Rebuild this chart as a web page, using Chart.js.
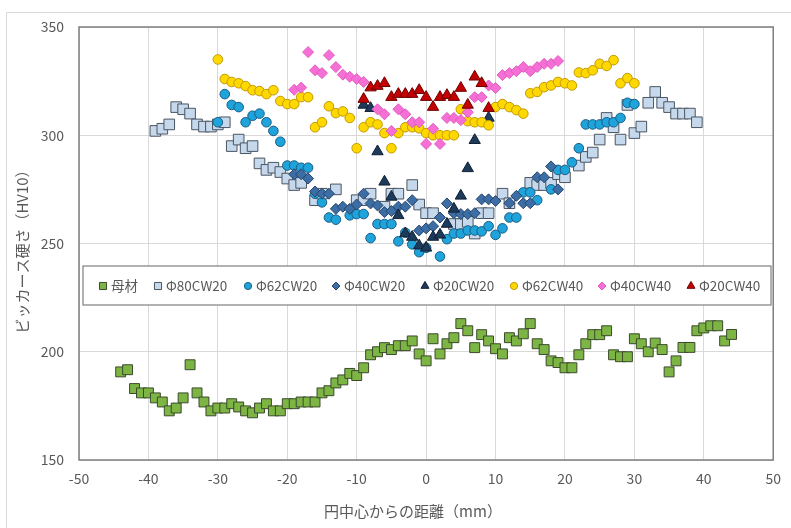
<!DOCTYPE html>
<html><head><meta charset="utf-8">
<script src="https://cdn.jsdelivr.net/npm/chart.js@4.4.1/dist/chart.umd.min.js"></script>
<style>html,body{margin:0;padding:0;background:#fff;}#wrap{width:791px;height:528px;position:relative;}</style>
</head><body><div id="wrap"><canvas id="c" width="791" height="528"></canvas></div>
<script>
// ---- data ----
const seriesNames = ['母材','Φ80CW20','Φ62CW20','Φ40CW20','Φ20CW20','Φ62CW40','Φ40CW40','Φ20CW40'];
const xTicks = [-50,-40,-30,-20,-10,0,10,20,30,40,50];
const yTicks = [150,200,250,300,350];
const xTitle = '円中心からの距離（mm）';
const yTitle = 'ビッカース硬さ（HV10）';

const baseX = [-44,-43,-42,-41,-40,-39,-38,-37,-36,-35,-34,-33,-32,-31,-30,-29,-28,-27,-26,-25,-24,-23,-22,-21,-20,-19,-18,-17,-16,-15,-14,-13,-12,-11,-10,-9,-8,-7,-6,-5,-4,-3,-2,-1,0,1,2,3,4,5,6,7,8,9,10,11,12,13,14,15,16,17,18,19,20,21,22,23,24,25,26,27,28,29,30,31,32,33,34,35,36,37,38,39,40,41,42,43,44];
const baseY = [190.7,191.7,183,181,181,178.7,176.8,172.7,174,178.7,194,181,176.8,172.7,174,174,176,174.5,172.7,171.8,174,176,172.7,172.7,176,176,176.8,176.8,176.8,181,182,185.6,187,190,189,192.6,198.6,200,201.9,201,202.8,202.8,205,199,195.8,206,199,203.7,206.5,213,209.7,201.9,207.9,205,201.4,199,206.5,205,208.3,213,203.7,201,195.8,195,192.6,192.6,198.6,203.7,207.9,207.9,209.7,198.6,197.7,197.7,206,203.7,200,204,201,190.7,195.8,202,202,209.7,211,212,212,205,208];

const p80c20X = [-39,-38,-37,-36,-35,-34,-33,-32,-31,-30,-29,-28,-27,-26,-25,-24,-23,-22,-21,-20,-19,-18,-16,-15,-13,-10,-9,-8,-6,-5,-4,-2,-1,0,1,4,5,6,7,8,9,11,12,15,16,17,18,19,20,22,23,24,25,26,27,28,29,30,31,32,33,34,35,36,37,38,39];
const p80c20Y = [302,303,305,313,312,310,305,304,304,305,306,295,298,294,295,287,284,285,283,280,277,278,270,273,275,270,270,273,267,273,273,277,268,264,264,259,259,260,254.6,264,264,273,268.6,278,277,277,278,282,280.6,286,290,292,298,308,303.7,298,314,301,304,315,320,315,313,310,310,310,306];

const p62c20X = [-30,-29,-28,-27,-26,-25,-24,-23,-22,-21,-20,-19,-18,-17,-16,-15,-14,-13,-11,-10,-9,-8,-7,-6,-5,-4,-3,-2,-1,0,2,3,4,5,6,7,8,9,10,11,12,13,14,15,16,18,19,20,21,22,23,24,25,26,27,28,29,30];
const p62c20Y = [306,319,314,313,306,309,310,306,302,297,286,286,285,285,273,269,262,261,263,263.6,263.6,252.5,259,259,259,251,255,249.6,246,248,244,252,254.6,254.6,256,256,255.6,258,254,257,262,262,273.6,273.6,270,275,284,284,287.5,294,305,305,305,306,306,308,315,314.4];

const p40c20X = [-19,-18,-17,-16,-15,-14,-13,-12,-11,-10,-9,-8,-7,-6,-5,-4,-3,-2,-1,0,1,2,3,4,5,6,7,8,9,10,12,13,14,15,16,17,18,19];
const p40c20Y = [282,282,280,274,273,273,266,267,266,268,273,268.5,267.6,264.5,265,267,267,270,256,257,258,262,268.5,264,263.6,263.6,264,270.4,270.4,269.6,268.6,272,268.6,268.6,280.6,280.6,285.6,275];

const p20c20X = [-9,-8,-7,-6,-5,-4,-3,-2,-1,0,1,2,3,4,5,6,7,9];
const p20c20Y = [314,312.5,292.5,278.5,271.5,263,254.6,253,249,248,253,254,259,266,272,284.7,297.7,308];

const p62c40X = [-30,-29,-28,-27,-26,-25,-24,-23,-22,-21,-20,-19,-18,-17,-16,-15,-14,-13,-12,-11,-10,-9,-8,-7,-6,-5,-4,-3,-2,-1,0,1,2,3,4,5,6,7,8,9,10,11,12,13,14,15,16,17,18,19,20,21,22,23,24,25,26,27,28,29,30];
const p62c40Y = [335,326,324.6,324,322.7,320.8,320.4,319,320.8,315.8,314.4,314.4,317.6,317.6,303.7,306,313.4,310.2,311,308,294,303.7,306,305,301,294,301,303.7,303.7,303.2,301,300,300,300,300,312,306.5,306,306,304.6,313,314.4,313,311.6,310,319.4,320,322.2,323,324.6,324,323,329,328.7,330,333,332,334.7,324,326.4,324];

const p40c40X = [-19,-18,-17,-16,-15,-14,-13,-12,-11,-10,-9,-7,-6,-5,-4,-3,-2,-1,0,1,2,3,4,5,6,7,8,9,10,11,12,13,14,15,16,17,18,19];
const p40c40Y = [321,322,338.4,330,328.7,337,331.5,328,327,326,324.6,312,309.7,302,312,309.7,306,306,296,303,296,308,308,307,310.6,317.6,317.6,323,321.8,327.8,328.7,329.6,331.5,329.6,331.5,333,333,334.3];

const p20c40X = [-9,-8,-7,-6,-5,-4,-3,-2,-1,0,1,2,3,4,5,6,7,8,9];
const p20c40Y = [316.7,322,322.7,324,317.6,319,319,319,320.8,317.6,313,317.6,318.5,317.6,321.8,314,327,324,312.5];

// ---- styles ----
const styles = [
  {style:'rect', r:7, fill:'#7db544', stroke:'#3b4a2c'},
  {style:'rect', r:7.5, fill:'#c6d8ec', stroke:'#4a5562'},
  {style:'circle', r:4.8, fill:'#1ea3da', stroke:'#1b5e86'},
  {style:'rectRot', r:5.5, fill:'#3d6da5', stroke:'#28476c'},
  {style:'triangle', r:6.5, fill:'#1e3a5a', stroke:'#0f1f33'},
  {style:'circle', r:4.8, fill:'#ffd800', stroke:'#c49a00'},
  {style:'rectRot', r:5.5, fill:'#f56fd4', stroke:'#e15cc3'},
  {style:'triangle', r:6.5, fill:'#c40000', stroke:'#6e0000'}
];
const xs = [baseX,p80c20X,p62c20X,p40c20X,p20c20X,p62c40X,p40c40X,p20c40X];
const ys = [baseY,p80c20Y,p62c20Y,p40c20Y,p20c20Y,p62c40Y,p40c40Y,p20c40Y];

const datasets = seriesNames.map((name,i)=>({
  label: name,
  data: xs[i].map((x,j)=>({x:x, y:ys[i][j]})),
  pointStyle: styles[i].style,
  pointRadius: styles[i].r,
  pointHoverRadius: styles[i].r,
  backgroundColor: styles[i].fill,
  borderColor: styles[i].stroke,
  pointBorderWidth: 1,
  borderWidth: 1,
  showLine: false,
  order: seriesNames.length - i
}));

const FONT = "'Noto Sans CJK JP','Noto Sans',sans-serif";
const TXT = '#595959';

function marker(ctx, style, x, y, r, fill, stroke){
  ctx.save();
  ctx.fillStyle = fill; ctx.strokeStyle = stroke; ctx.lineWidth = 1;
  ctx.beginPath();
  if (style==='rect'){ const s=r*Math.SQRT1_2; ctx.rect(x-s,y-s,2*s,2*s); }
  else if (style==='circle'){ ctx.arc(x,y,r,0,Math.PI*2); }
  else if (style==='rectRot'){ ctx.moveTo(x,y-r); ctx.lineTo(x+r,y); ctx.lineTo(x,y+r); ctx.lineTo(x-r,y); ctx.closePath(); }
  else if (style==='triangle'){ ctx.moveTo(x,y-r); ctx.lineTo(x+r*0.866,y+r*0.5); ctx.lineTo(x-r*0.866,y+r*0.5); ctx.closePath(); }
  ctx.fill(); ctx.stroke();
  ctx.restore();
}

const legendMarkerX = [103,158,248,336,425,514,602,691];
const legendSizes = [5,5,3.6,4,4.6,3.6,4,4.6];

const decor = {
  id:'decor',
  beforeDraw(chart){
    const ctx = chart.ctx;
    ctx.save();
    ctx.fillStyle='#fff'; ctx.fillRect(0,0,chart.width,chart.height);
    ctx.strokeStyle='#d9d9d9'; ctx.lineWidth=1;
    ctx.beginPath(); ctx.moveTo(6.5,528); ctx.lineTo(6.5,12.5); ctx.lineTo(791,12.5); ctx.stroke();
    ctx.restore();
  },
  beforeDatasetsDraw(chart){
    const ctx = chart.ctx, a = chart.chartArea;
    ctx.save();
    ctx.strokeStyle='#7f7f7f'; ctx.lineWidth=1.5;
    ctx.strokeRect(a.left, a.top, a.right-a.left, a.bottom-a.top);
    // axis titles
    ctx.fillStyle = TXT; ctx.font = "15px " + FONT;
    ctx.textAlign='center'; ctx.textBaseline='middle';
    ctx.fillText(xTitle, 413, 511);
    ctx.translate(22, 248); ctx.rotate(-Math.PI/2);
    ctx.fillText(yTitle, 0, 0);
    ctx.restore();
  },
  afterDraw(chart){
    const ctx = chart.ctx;
    ctx.save();
    ctx.fillStyle='#fff'; ctx.strokeStyle='#7f7f7f'; ctx.lineWidth=1.2;
    ctx.fillRect(83,266,688,39); ctx.strokeRect(83,266,688,39);
    ctx.font = "13.5px " + FONT; ctx.fillStyle = TXT; ctx.textBaseline='middle'; ctx.textAlign='left';
    chart.data.datasets.forEach((ds,i)=>{
      const mx = legendMarkerX[i];
      marker(ctx, ds.pointStyle, mx, 286, legendSizes[i], ds.backgroundColor, ds.borderColor);
      ctx.fillText(ds.label, mx+8, 286);
    });
    ctx.restore();
  }
};

new Chart(document.getElementById('c'), {
  type:'scatter',
  data:{datasets},
  options:{
    responsive:false, animation:false, devicePixelRatio:1,
    layout:{padding:{left:0, top:27, right:13, bottom:0}},
    plugins:{legend:{display:false}, tooltip:{enabled:false}, title:{display:false}},
    scales:{
      x:{type:'linear', min:-50, max:50,
         afterBuildTicks:(s)=>{ s.ticks = xTicks.map(v=>({value:v})); },
         afterFit:(s)=>{ s.height = 68; },
         grid:{color:'#d9d9d9', lineWidth:1, drawTicks:false},
         border:{display:false},
         ticks:{color:TXT, font:{family:FONT, size:14}, padding:10, maxRotation:0}},
      y:{type:'linear', min:150, max:350,
         afterBuildTicks:(s)=>{ s.ticks = yTicks.map(v=>({value:v})); },
         afterFit:(s)=>{ s.width = 79; },
         grid:{color:'#d9d9d9', lineWidth:1, drawTicks:false},
         border:{display:false},
         ticks:{color:TXT, font:{family:FONT, size:14}, padding:15}}
    }
  },
  plugins:[decor]
});
</script></body></html>
